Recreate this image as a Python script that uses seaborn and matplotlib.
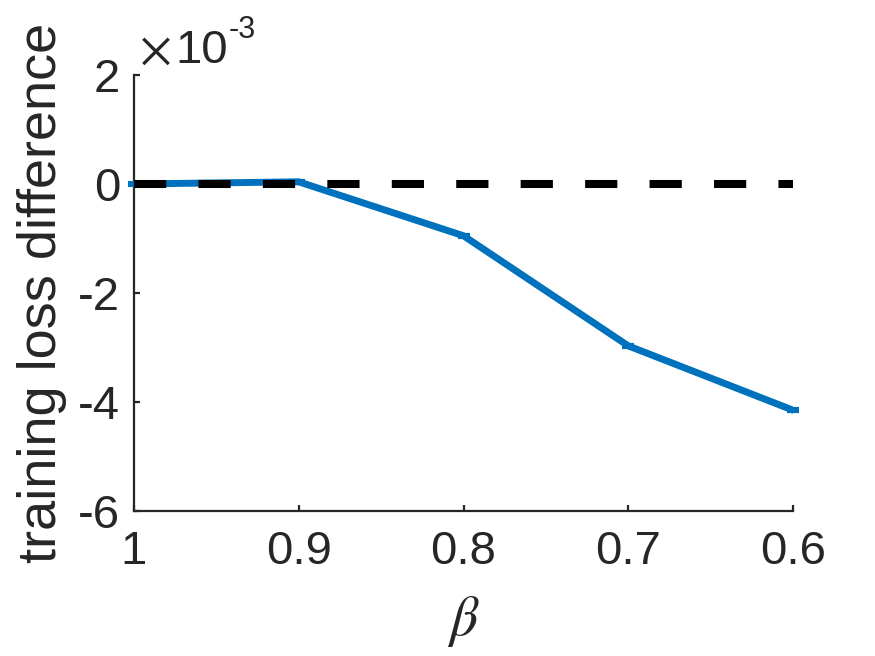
import matplotlib
matplotlib.use("Agg")
import matplotlib.pyplot as plt
import seaborn as sns
import numpy as np
import pandas as pd

beta = [1.0, 0.9, 0.8, 0.7, 0.6]
loss_diff = [0.0, 0.04e-3, -0.95e-3, -2.97e-3, -4.15e-3]
loss_err = [0.02e-3, 0.02e-3, 0.02e-3, 0.02e-3, 0.02e-3]
xticks = [1, 0.9, 0.8, 0.7, 0.6]
xticklabels = ["1", "0.9", "0.8", "0.7", "0.6"]
yticks = [-6e-3, -4e-3, -2e-3, 0, 2e-3]
yticklabels = ["-6", "-4", "-2", "0", "2"]

sns.set_style("white")
plt.rcParams['font.family'] = ['Liberation Sans', 'DejaVu Sans']
plt.rcParams['mathtext.fontset'] = 'stix'
axcol = "#262626"

W, H = 875, 656
fig = plt.figure(figsize=(8.75, 6.56), dpi=100)
ax = fig.add_axes([134/W, 1-511/H, (793-134)/W, (511-75)/H])

df = pd.DataFrame({"beta": beta, "diff": loss_diff})
blue = "#0072BD"
sns.lineplot(data=df, x="beta", y="diff", ax=ax, color=blue, lw=5, zorder=3)
eb = ax.errorbar(beta, loss_diff, yerr=loss_err, fmt="none", ecolor=blue,
                 elinewidth=2, capsize=4.3, capthick=3, zorder=4)
for art in eb.get_children():
    art.set_clip_on(False)
ax.axhline(0, color="black", lw=5.8, ls=(0, (4, 4)), zorder=5)

ax.set_xlim(1.0, 0.6)
ax.set_ylim(-6e-3, 2e-3)
ax.set_xticks(xticks)
ax.set_xticklabels(xticklabels)
ax.set_yticks(yticks)
ax.set_yticklabels(yticklabels)
ax.tick_params(direction="in", length=4.5, width=1.6, colors=axcol, labelsize=34,
               bottom=True, left=True)
ax.tick_params(axis="x", pad=14)
ax.tick_params(axis="y", pad=10)
for s in ["top", "right"]:
    ax.spines[s].set_visible(False)
for s in ["left", "bottom"]:
    ax.spines[s].set_color(axcol)
    ax.spines[s].set_linewidth(1.6)

ax.set_xlabel(r"$\beta$", fontsize=40, color=axcol, labelpad=14)
ax.set_ylabel("training loss difference", fontsize=39, color=axcol)
ax.yaxis.set_label_coords(-0.102, 0.5)

# exponent label (x10^-3)
fig.text(139/W, 1-64/H, r"$\times$", fontsize=36, color=axcol, ha="left", va="baseline")
fig.text(175/W, 1-63/H, "10", fontsize=34, color=axcol, ha="left", va="baseline")
fig.text(229/W, 1-38/H, "-3", fontsize=22, color=axcol, ha="left", va="baseline")

fig.savefig("out.png", dpi=100)
